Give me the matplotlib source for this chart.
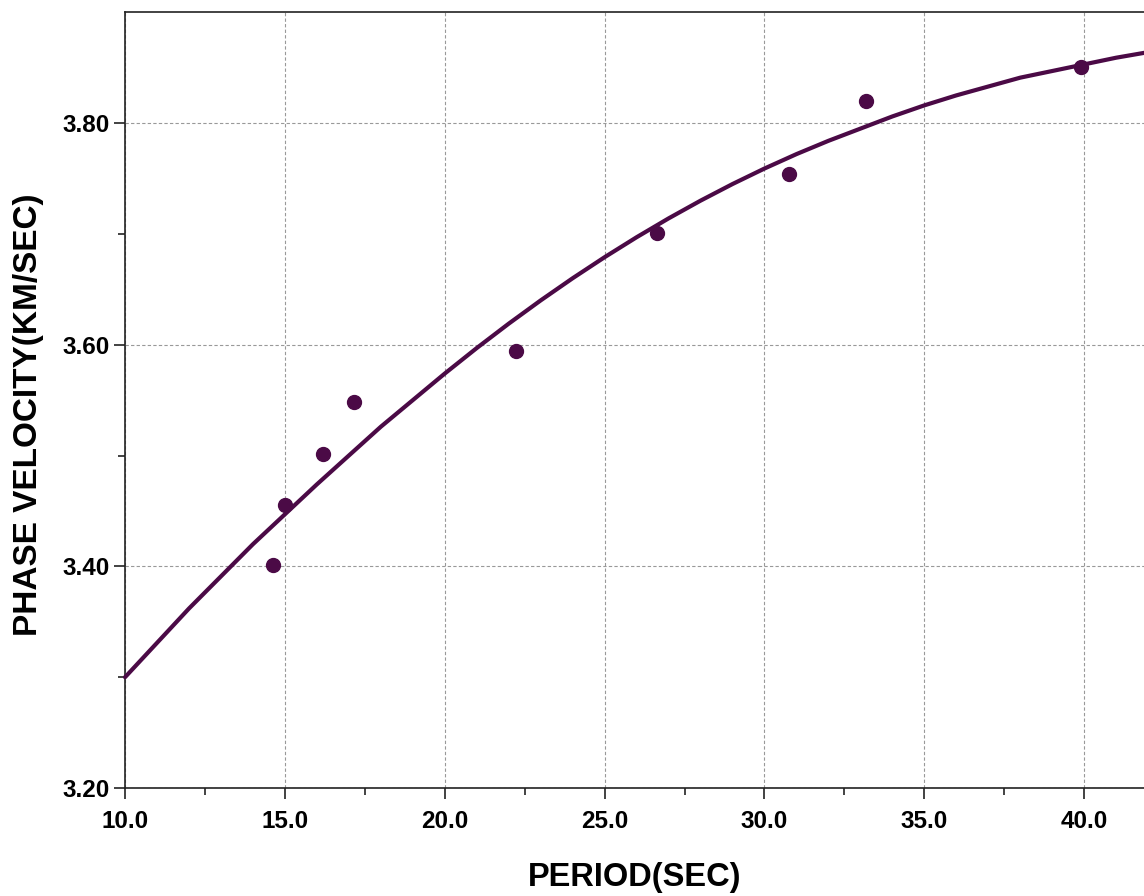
import matplotlib
matplotlib.use("Agg")
import matplotlib.pyplot as plt
from matplotlib.ticker import MultipleLocator, FixedLocator, FormatStrFormatter

# Measured phase velocities
period = [14.63, 15.00, 16.19, 17.16, 22.23, 26.64, 30.77, 33.18, 39.90]
velocity = [3.401, 3.455, 3.501, 3.548, 3.594, 3.701, 3.754, 3.820, 3.851]

# Smoothed dispersion curve
curve_period = [10, 11, 12, 13, 14, 15, 16, 17, 18, 19, 20, 21, 22, 23, 24, 25, 26,
                27, 28, 29, 30, 31, 32, 33, 34, 35, 36, 37, 38, 39, 40, 41, 42]
curve_velocity = [3.300, 3.331, 3.362, 3.391, 3.420, 3.447, 3.474, 3.500, 3.526,
                  3.550, 3.574, 3.597, 3.619, 3.640, 3.660, 3.679, 3.697, 3.714,
                  3.730, 3.745, 3.759, 3.772, 3.784, 3.795, 3.806, 3.816, 3.825,
                  3.833, 3.841, 3.847, 3.853, 3.859, 3.864]

color = "#4b0a46"

plt.rcParams["font.family"] = ["Liberation Sans", "DejaVu Sans"]
fig = plt.figure(figsize=(11.44, 8.96), dpi=100)
ax = fig.add_axes([0.1093, 0.1205, 0.8943, 0.8658])

ax.plot(curve_period, curve_velocity, color=color, lw=3.0, solid_capstyle="round",
        solid_joinstyle="round", zorder=3, clip_on=False)
ax.plot(period, velocity, "o", color=color, ms=10, zorder=4)

ax.set_xlim(10, 42)
ax.set_ylim(3.20, 3.90)

ax.xaxis.set_major_locator(MultipleLocator(5))
ax.xaxis.set_minor_locator(MultipleLocator(2.5))
ax.yaxis.set_major_locator(FixedLocator([3.2, 3.4, 3.6, 3.8]))
ax.yaxis.set_minor_locator(FixedLocator([3.3, 3.5, 3.7]))
ax.xaxis.set_major_formatter(FormatStrFormatter("%.1f"))
ax.yaxis.set_major_formatter(FormatStrFormatter("%.2f"))

ax.tick_params(axis="both", which="major", direction="out", length=8, width=1.2,
               labelsize=17.5, color="#222222")
ax.tick_params(axis="both", which="minor", direction="out", length=5, width=1.2,
               color="#222222")
ax.tick_params(axis="x", which="major", pad=8)
ax.tick_params(axis="y", which="major", pad=3)
for lab in ax.get_xticklabels() + ax.get_yticklabels():
    lab.set_fontweight("bold")

ax.grid(True, which="major", color="#999999", linestyle=(0, (3, 2)), linewidth=0.8)

for side in ["left", "bottom", "top", "right"]:
    ax.spines[side].set_linewidth(1.2)
    ax.spines[side].set_color("#222222")

ax.set_xlabel("PERIOD(SEC)", fontsize=23.5, fontweight="bold")
ax.set_ylabel("PHASE VELOCITY(KM/SEC)", fontsize=24, fontweight="bold")
ax.xaxis.set_label_coords(0.4985, -0.1147)
ax.yaxis.set_label_coords(-0.0948, 0.4807)
ax.xaxis.label.set_va("center")
ax.yaxis.label.set_va("center")

fig.savefig("out.png", dpi=100)
